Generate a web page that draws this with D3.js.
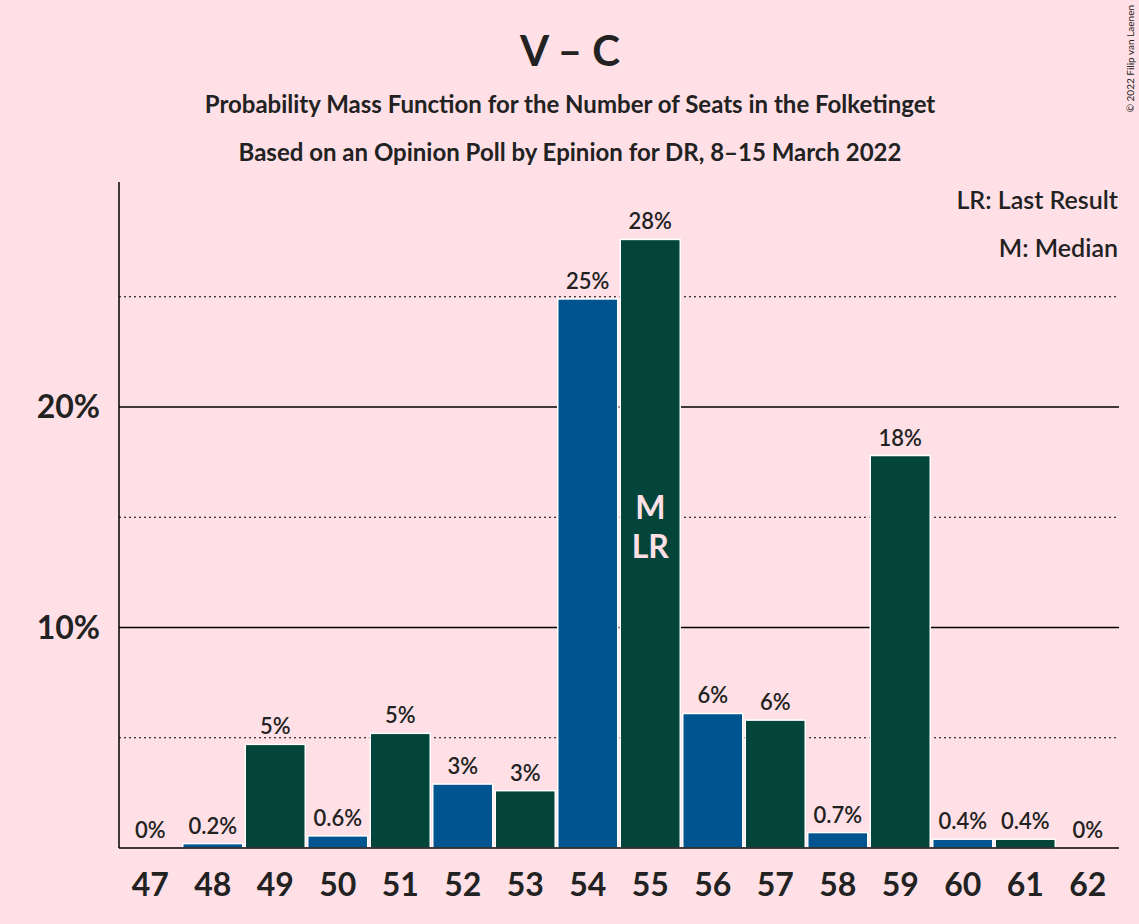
<!DOCTYPE html><html><head><meta charset="utf-8"><script src="https://cdn.jsdelivr.net/npm/d3@7"></script>
<style>body{margin:0;background:#ffe0e6}text{font-family:Lato,"DejaVu Sans",sans-serif}</style></head><body>
<svg id="c" width="1139" height="924"></svg>
<script>
const seats=[47,48,49,50,51,52,53,54,55,56,57,58,59,60,61,62];
const probs=[0,0.2,4.7,0.55,5.2,2.9,2.6,24.9,27.6,6.1,5.8,0.7,17.8,0.4,0.4,0];
const labels=["0%","0.2%","5%","0.6%","5%","3%","3%","25%","28%","6%","6%","0.7%","18%","0.4%","0.4%","0%"];
const solidTicks=[10,20], dottedTicks=[5,15,25];
const colors=["#03453a","#00548f"];
const svg=d3.select("#c");
svg.append("rect").attr("width",1139).attr("height",924).attr("fill","#ffe0e6");
const x=d3.scaleBand().domain(seats).range([119,1119]).paddingInner(0.04).paddingOuter(0.02);
const y=d3.scaleLinear().domain([0,30]).range([848,186.5]);
svg.selectAll(".d").data(dottedTicks).join("line").attr("x1",119).attr("x2",1119).attr("y1",d=>y(d)).attr("y2",d=>y(d)).attr("stroke","#000").attr("stroke-dasharray","2,3");
svg.selectAll(".s").data(solidTicks).join("line").attr("x1",119).attr("x2",1119).attr("y1",d=>y(d)).attr("y2",d=>y(d)).attr("stroke","#000").attr("stroke-width",1.5);
svg.selectAll(".b").data(seats).join("rect").attr("x",d=>x(d)).attr("width",x.bandwidth()).attr("y",(d,i)=>y(probs[i])).attr("height",(d,i)=>848-y(probs[i])).attr("fill",(d,i)=>colors[i%2]).attr("stroke",(d,i)=>probs[i]>0?"#fff":"none").attr("stroke-width",1.5);
svg.selectAll(".l").data(seats).join("text").attr("x",d=>x(d)+x.bandwidth()/2).attr("y",(d,i)=>y(probs[i])-10).attr("text-anchor","middle").attr("font-size",22).attr("font-weight",600).attr("fill","#222").text((d,i)=>labels[i]);
svg.append("line").attr("x1",119).attr("x2",119).attr("y1",182).attr("y2",848).attr("stroke","#000").attr("stroke-width",1.5);
svg.append("line").attr("x1",119).attr("x2",1119).attr("y1",848).attr("y2",848).attr("stroke","#000").attr("stroke-width",1.5);
svg.selectAll(".xt").data(seats).join("text").attr("x",d=>x(d)+x.bandwidth()/2).attr("y",896).attr("text-anchor","middle").attr("font-size",32).attr("font-weight",700).attr("fill","#222").text(d=>d);
svg.selectAll(".yt").data(solidTicks).join("text").attr("x",100).attr("y",d=>y(d)+11).attr("text-anchor","end").attr("font-size",32).attr("font-weight",700).attr("fill","#222").text(d=>d+"%");
const cx=x(55)+x.bandwidth()/2;
svg.append("text").attr("x",cx).attr("y",519).attr("text-anchor","middle").attr("font-size",32).attr("font-weight",700).attr("fill","#ffe0e6").text("M");
svg.append("text").attr("x",cx).attr("y",558).attr("text-anchor","middle").attr("font-size",32).attr("font-weight",700).attr("fill","#ffe0e6").text("LR");
svg.append("text").attr("x",570).attr("y",66).attr("text-anchor","middle").attr("font-size",42).attr("font-weight",700).attr("fill","#222").text("V – C");
svg.append("text").attr("x",570).attr("y",113).attr("text-anchor","middle").attr("font-size",24).attr("font-weight",700).attr("fill","#222").text("Probability Mass Function for the Number of Seats in the Folketinget");
svg.append("text").attr("x",570).attr("y",161).attr("text-anchor","middle").attr("font-size",24).attr("font-weight",700).attr("fill","#222").text("Based on an Opinion Poll by Epinion for DR, 8–15 March 2022");
svg.append("text").attr("x",1118).attr("y",209).attr("text-anchor","end").attr("font-size",25).attr("font-weight",600).attr("fill","#222").text("LR: Last Result");
svg.append("text").attr("x",1118).attr("y",257).attr("text-anchor","end").attr("font-size",25).attr("font-weight",600).attr("fill","#222").text("M: Median");
svg.append("text").attr("transform","translate(1134,5) rotate(-90)").attr("text-anchor","end").attr("font-size",10).attr("fill","#222").text("© 2022 Filip van Laenen");
</script></body></html>
